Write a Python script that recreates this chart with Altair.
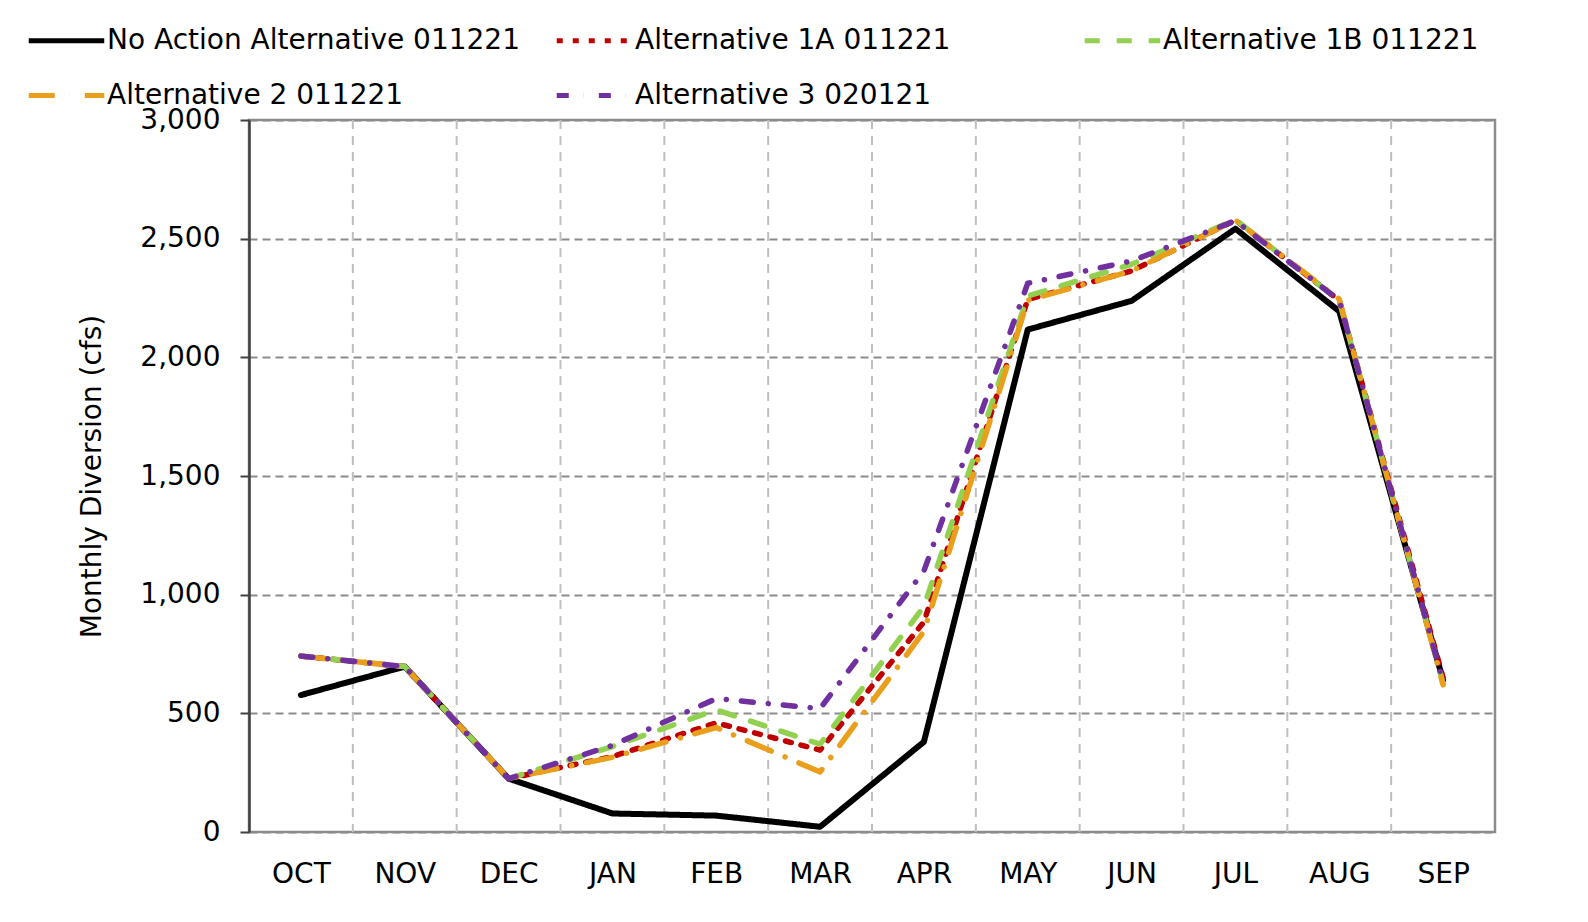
import altair as alt
import pandas as pd

months = ["OCT", "NOV", "DEC", "JAN", "FEB", "MAR", "APR", "MAY", "JUN", "JUL", "AUG", "SEP"]
series_names = [
    "No Action Alternative 011221",
    "Alternative 1A 011221",
    "Alternative 1B 011221",
    "Alternative 2 011221",
    "Alternative 3 020121",
]
no_action = [577, 697, 225, 78, 69, 22, 380, 2117, 2238, 2542, 2194, 640]
alt_1a = [741, 697, 225, 318, 460, 345, 885, 2244, 2364, 2578, 2240, 650]
alt_1b = [741, 697, 225, 360, 515, 370, 950, 2258, 2392, 2580, 2240, 625]
alt_2 = [741, 697, 225, 315, 440, 253, 845, 2240, 2364, 2578, 2245, 620]
alt_3 = [741, 697, 225, 365, 562, 520, 1100, 2312, 2406, 2575, 2240, 630]
all_values = [no_action, alt_1a, alt_1b, alt_2, alt_3]

colors = ["#000000", "#C00000", "#92D050", "#E99F1B", "#7030A0"]
dashes = [[1, 0], [6, 10], [15, 17], [26, 15, 0.1, 15], [12, 15, 0.1, 15]]
widths = [6, 5.5, 5.5, 5.5, 5.5]
y_ticks = [0, 500, 1000, 1500, 2000, 2500, 3000]

rows = []
for name, vals in zip(series_names, all_values):
    for i, (m, v) in enumerate(zip(months, vals)):
        rows.append({"series": name, "month": m, "pos": i + 0.5, "value": v})
df = pd.DataFrame(rows)

boundaries = pd.DataFrame({"b": list(range(1, len(months)))})

label_expr = "[" + ",".join('"%s"' % m for m in months) + "][floor(datum.value)]"

x_enc = alt.X(
    "pos:Q",
    scale=alt.Scale(domain=[0, len(months)], nice=False, zero=False),
    axis=alt.Axis(
        values=[i + 0.5 for i in range(len(months))],
        labelExpr=label_expr,
        grid=False,
        ticks=False,
        domain=False,
        title=None,
        labelFontSize=28,
        labelFont="DejaVu Sans",
        labelColor="#000000",
        labelPadding=28,
    ),
)
y_enc = alt.Y(
    "value:Q",
    scale=alt.Scale(domain=[0, 3000], nice=False),
    axis=alt.Axis(
        values=y_ticks,
        format=",.0f",
        title="Monthly Diversion (cfs)",
        titleFontSize=28,
        titleFont="DejaVu Sans",
        titleFontWeight="normal",
        titleColor="#000000",
        titlePadding=33,
        labelFontSize=28,
        labelFont="DejaVu Sans",
        labelColor="#000000",
        labelPadding=20,
        tickSize=9,
        tickColor="#404040",
        tickWidth=2,
        domainColor="#404040",
        domainWidth=2.5,
        grid=True,
        gridColor="#8C8C8C",
        gridDash=[8, 5],
        gridWidth=2,
    ),
)

legend_def = alt.Legend(
    orient="none",
    legendX=-223,
    legendY=-120,
    columns=3,
    direction="horizontal",
    gridAlign="all",
    columnPadding=26,
    rowPadding=-32,
    labelFontSize=28,
    labelFont="DejaVu Sans",
    labelColor="#000000",
    labelLimit=600,
    labelOffset=0,
    symbolType="stroke",
    symbolSize=5700,
    symbolStrokeWidth=5,
    title=None,
)

color_enc = alt.Color(
    "series:N",
    scale=alt.Scale(domain=series_names, range=colors),
    title=None,
    legend=legend_def,
)
dash_enc = alt.StrokeDash(
    "series:N",
    scale=alt.Scale(domain=series_names, range=dashes),
    title=None,
    legend=legend_def,
)

vgrid = alt.Chart(boundaries).mark_rule(
    color="#BFBFBF", strokeDash=[9, 7], strokeWidth=2
).encode(x=alt.X("b:Q", scale=alt.Scale(domain=[0, len(months)], nice=False, zero=False)))

layers = [vgrid]
for name, w in zip(series_names, widths):
    layer = (
        alt.Chart(df)
        .transform_filter(alt.datum.series == name)
        .mark_line(strokeWidth=w, strokeCap="round", strokeJoin="round")
        .encode(x=x_enc, y=y_enc, color=color_enc, strokeDash=dash_enc, order="pos:Q")
    )
    layers.append(layer)

chart = (
    alt.layer(*layers)
    .properties(
        width=1246,
        height=712,
        autosize=alt.AutoSizeParams(type="none"),
        padding={"left": 241, "top": 112, "right": 80, "bottom": 80},
        background="#FFFFFF",
    )
    .configure_view(stroke="#8C8C8C", strokeWidth=2.5)
)

chart.save("out.html", embed_options={"renderer": "svg", "actions": False})
